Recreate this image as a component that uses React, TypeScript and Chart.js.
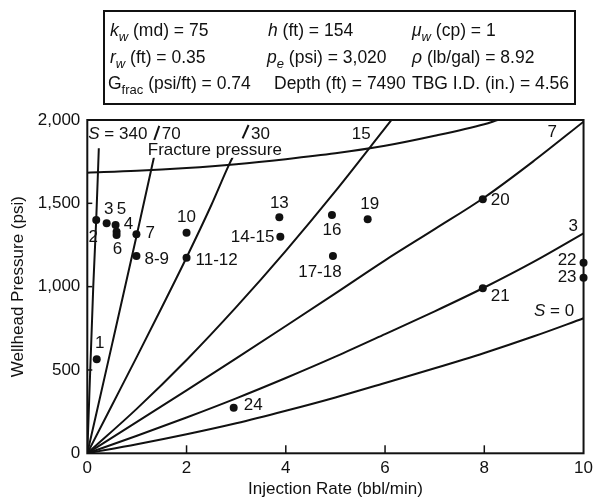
import React, { useEffect, useRef } from 'react';
import { Chart, registerables } from 'chart.js';

Chart.register(...registerables);

const FONT = '"Liberation Sans", Arial, Helvetica, sans-serif';
const INK = '#111111';

// axis ticks
const xTicks = [0, 2, 4, 6, 8, 10];
const yTicks = [0, 500, 1000, 1500, 2000];
const yTickText = ['0', '500', '1,000', '1,500', '2,000'];

// measured injection points
const injRate = [0.19, 0.18, 0.39, 0.59, 0.57, 0.59, 0.99, 0.99, 2.0, 2.0, 3.87, 3.89, 4.93, 4.95, 5.65, 7.97, 7.97, 10.0, 10.0, 2.95];
const whPressure = [564, 1400, 1380, 1330, 1370, 1310, 1315, 1184, 1324, 1174, 1416, 1300, 1430, 1184, 1404, 1524, 990, 1144, 1054, 274];
const pointNames = ['1', '2', '3', '4', '5', '6', '7', '8-9', '10', '11-12', '13', '14-15', '16', '17-18', '19', '20', '21', '22', '23', '24'];

// skin lines (S = const)
const s0Rate = [0, 1, 2, 3, 4, 5, 6, 7, 8, 9, 10];
const s0Pres = [0, 54, 114, 180, 255, 335, 422, 510, 602, 702, 810];
const s3Rate = [0, 1, 2, 3, 4, 5, 6, 7, 8, 9, 10];
const s3Pres = [0, 105, 215, 330, 452, 580, 715, 852, 995, 1150, 1320];
const s7Rate = [0, 1, 2, 3, 4, 5, 6, 7, 8, 9, 10];
const s7Pres = [0, 188, 378, 570, 764, 960, 1158, 1345, 1535, 1755, 1990];
const s15Rate = [0, 1, 2, 3, 4, 5, 6, 6.13];
const s15Pres = [0, 268, 560, 877, 1215, 1573, 1951, 2000];
const s30Rate = [0, 0.5, 1, 1.5, 2, 2.5, 2.85, 2.97];
const s30Pres = [0, 290, 580, 875, 1175, 1490, 1728, 1800];
const s70Rate = [0, 0.5, 1, 1.29, 1.36];
const s70Pres = [0, 655, 1315, 1704, 1800];
const s340Rate = [0, 0.12, 0.18, 0.232];
const s340Pres = [0, 1000, 1404, 1830];

// fracture pressure curve
const fracRate = [0, 1, 2, 3, 4, 5, 6, 7, 8, 8.27];
const fracPres = [1684, 1695, 1712, 1735, 1765, 1800, 1845, 1905, 1975, 2000];

// label placement for the points (pixel offsets from the point)
const pointLabelLayout: Record<string, [number, number, CanvasTextAlign]> = {
  '1': [3, -16, 'center'],
  '2': [-3, 17, 'center'],
  '3': [2, -14, 'center'],
  '4': [12, -7, 'center'],
  '5': [6, -16, 'center'],
  '6': [1, 14, 'center'],
  '7': [9, -1, 'left'],
  '8-9': [8, 3, 'left'],
  '10': [0, -15, 'center'],
  '11-12': [9, 3, 'left'],
  '13': [0, -14, 'center'],
  '14-15': [-6, 1, 'right'],
  '16': [0, 15, 'center'],
  '17-18': [-13, 16, 'center'],
  '19': [2, -15, 'center'],
  '20': [8, 1, 'left'],
  '21': [8, 8, 'left'],
  '22': [-7, -2, 'right'],
  '23': [-7, 0, 'right'],
  '24': [10, -2, 'left'],
};

type Seg = { t: string; i?: boolean; sub?: boolean };

// curve labels anchored in data units
const curveLabels: { segs: Seg[]; x: number; y: number; align: CanvasTextAlign; bg?: boolean; slash?: [number, number, number, number] }[] = [
  { segs: [{ t: 'S', i: true }, { t: ' = 340' }], x: 0.02, y: 1920, align: 'left' },
  { segs: [{ t: '70' }], x: 1.5, y: 1925, align: 'left', slash: [1.35, 1880, 1.45, 1965] },
  { segs: [{ t: '30' }], x: 3.3, y: 1925, align: 'left', slash: [3.13, 1890, 3.25, 1970] },
  { segs: [{ t: '15' }], x: 5.71, y: 1920, align: 'right' },
  { segs: [{ t: '7' }], x: 9.37, y: 1936, align: 'center' },
  { segs: [{ t: '3' }], x: 9.79, y: 1370, align: 'center' },
  { segs: [{ t: 'S', i: true }, { t: ' = 0' }], x: 9.81, y: 860, align: 'right' },
  { segs: [{ t: 'Fracture pressure' }], x: 2.57, y: 1825, align: 'center', bg: true },
];

// parameter box
const infoRows: { x: number; segs: Seg[] }[][] = [
  [
    { x: 110, segs: [{ t: 'k', i: true }, { t: 'w', i: true, sub: true }, { t: ' (md) = 75' }] },
    { x: 268, segs: [{ t: 'h', i: true }, { t: ' (ft) = 154' }] },
    { x: 412, segs: [{ t: 'μ', i: true }, { t: 'w', i: true, sub: true }, { t: ' (cp) = 1' }] },
  ],
  [
    { x: 110, segs: [{ t: 'r', i: true }, { t: 'w', i: true, sub: true }, { t: ' (ft) = 0.35' }] },
    { x: 267, segs: [{ t: 'p', i: true }, { t: 'e', i: true, sub: true }, { t: ' (psi) = 3,020' }] },
    { x: 412, segs: [{ t: 'ρ', i: true }, { t: ' (lb/gal) = 8.92' }] },
  ],
  [
    { x: 108, segs: [{ t: 'G' }, { t: 'frac', sub: true }, { t: ' (psi/ft) = 0.74' }] },
    { x: 274, segs: [{ t: 'Depth (ft) = 7490' }] },
    { x: 412, segs: [{ t: 'TBG I.D. (in.) = 4.56' }] },
  ],
];

const SIZE = 17;
const INFO_SIZE = 17.5;

function segFont(s: Seg, size: number) {
  const sz = s.sub ? Math.round(size * 0.74) : size;
  return `${s.i ? 'italic ' : ''}${sz}px ${FONT}`;
}

function richWidth(ctx: CanvasRenderingContext2D, segs: Seg[], size: number) {
  let w = 0;
  for (const s of segs) {
    ctx.font = segFont(s, size);
    w += ctx.measureText(s.t).width;
  }
  return w;
}

function drawRich(ctx: CanvasRenderingContext2D, segs: Seg[], x: number, y: number, size: number, align: CanvasTextAlign = 'left', bg = false) {
  const w = richWidth(ctx, segs, size);
  let cx = align === 'left' ? x : align === 'right' ? x - w : x - w / 2;
  if (bg) {
    ctx.save();
    ctx.fillStyle = '#ffffff';
    ctx.fillRect(cx - 1, y - size * 0.8, w + 2, size * 0.95);
    ctx.restore();
  }
  ctx.textAlign = 'left';
  ctx.textBaseline = 'alphabetic';
  for (const s of segs) {
    ctx.font = segFont(s, size);
    ctx.fillText(s.t, cx, y + (s.sub ? size * 0.28 : 0));
    cx += ctx.measureText(s.t).width;
  }
}

const overlay = {
  id: 'overlay',
  beforeDraw(chart: any) {
    const { ctx, width, height } = chart;
    ctx.save();
    ctx.fillStyle = '#ffffff';
    ctx.fillRect(0, 0, width, height);
    ctx.restore();
  },
  afterDatasetsDraw(chart: any) {
    const { ctx, chartArea: a, scales } = chart;
    const xs = scales.x;
    const ys = scales.y;
    ctx.save();
    ctx.strokeStyle = INK;
    ctx.fillStyle = INK;
    // frame
    ctx.lineWidth = 2;
    ctx.strokeRect(a.left, a.top, a.right - a.left, a.bottom - a.top);
    // inward ticks
    ctx.lineWidth = 1.5;
    for (const v of xTicks.slice(1, -1)) {
      const px = xs.getPixelForValue(v);
      ctx.beginPath();
      ctx.moveTo(px, a.bottom);
      ctx.lineTo(px, a.bottom - 8);
      ctx.stroke();
    }
    for (const v of yTicks.slice(1, -1)) {
      const py = ys.getPixelForValue(v);
      ctx.beginPath();
      ctx.moveTo(a.left, py);
      ctx.lineTo(a.left + 5, py);
      ctx.stroke();
    }
    // point labels
    ctx.font = `${SIZE}px ${FONT}`;
    ctx.textBaseline = 'middle';
    pointNames.forEach((name, k) => {
      const [dx, dy, al] = pointLabelLayout[name];
      ctx.textAlign = al;
      ctx.fillText(name, xs.getPixelForValue(injRate[k]) + dx, ys.getPixelForValue(whPressure[k]) + dy);
    });
    // curve labels
    for (const c of curveLabels) {
      const px = xs.getPixelForValue(c.x);
      const py = ys.getPixelForValue(c.y);
      drawRich(ctx, c.segs, px, py + SIZE * 0.36, SIZE, c.align, !!c.bg);
      if (c.slash) {
        ctx.lineWidth = 2;
        ctx.beginPath();
        ctx.moveTo(xs.getPixelForValue(c.slash[0]), ys.getPixelForValue(c.slash[1]));
        ctx.lineTo(xs.getPixelForValue(c.slash[2]), ys.getPixelForValue(c.slash[3]));
        ctx.stroke();
      }
    }
    // parameter box
    ctx.lineWidth = 2;
    ctx.strokeRect(104, 11, 471, 93);
    const baselines = [36, 63, 89];
    infoRows.forEach((row, r) => {
      for (const cell of row) drawRich(ctx, cell.segs, cell.x, baselines[r], INFO_SIZE, 'left');
    });
    ctx.restore();
  },
};

function pts(xs: number[], ys: number[]) {
  return xs.map((x, i) => ({ x, y: ys[i] }));
}

function curve(xs: number[], ys: number[]) {
  return {
    data: pts(xs, ys),
    showLine: true,
    borderColor: INK,
    borderWidth: 2,
    pointRadius: 0,
    cubicInterpolationMode: 'monotone',
    fill: false,
  };
}

export default function App() {
  const ref = useRef<HTMLCanvasElement>(null);
  useEffect(() => {
    if (!ref.current) return;
    const tickFont = { family: FONT, size: SIZE };
    const chart = new Chart(ref.current, {
      type: 'scatter',
      data: {
        datasets: [
          curve(s0Rate, s0Pres),
          curve(s3Rate, s3Pres),
          curve(s7Rate, s7Pres),
          curve(s15Rate, s15Pres),
          curve(s30Rate, s30Pres),
          curve(s70Rate, s70Pres),
          curve(s340Rate, s340Pres),
          curve(fracRate, fracPres),
          {
            data: pts(injRate, whPressure),
            showLine: false,
            pointRadius: 4,
            pointBackgroundColor: INK,
            pointBorderWidth: 0,
            clip: false,
          },
        ] as any,
      },
      options: {
        responsive: false,
        animation: false,
        events: [],
        layout: { padding: { top: 120, right: 11, left: 0, bottom: 0 } },
        plugins: { legend: { display: false }, tooltip: { enabled: false } },
        scales: {
          x: {
            type: 'linear',
            min: 0,
            max: 10,
            afterBuildTicks: (s: any) => {
              s.ticks = xTicks.map((v) => ({ value: v }));
            },
            afterFit: (s: any) => {
              s.height = 46.7;
            },
            grid: { display: false, drawTicks: false },
            border: { display: false },
            ticks: { font: tickFont, color: INK, padding: 5, maxRotation: 0, autoSkip: false },
            title: {
              display: true,
              text: 'Injection Rate (bbl/min)',
              font: { family: FONT, size: SIZE, lineHeight: 1.2 },
              color: INK,
              padding: { top: 0, bottom: 0 },
            },
          },
          y: {
            type: 'linear',
            min: 0,
            max: 2000,
            afterBuildTicks: (s: any) => {
              s.ticks = yTicks.map((v) => ({ value: v }));
            },
            afterFit: (s: any) => {
              s.width = 87.3;
            },
            grid: { display: false, drawTicks: false },
            border: { display: false },
            ticks: {
              font: tickFont,
              color: INK,
              padding: 7,
              autoSkip: false,
              callback: (v: any) => yTickText[yTicks.indexOf(Number(v))] ?? String(v),
            },
            title: {
              display: true,
              text: 'Wellhead Pressure (psi)',
              font: { family: FONT, size: SIZE, lineHeight: 1.2 },
              color: INK,
              padding: { top: 8, bottom: 0 },
            },
          },
        },
      } as any,
      plugins: [overlay],
    });
    return () => chart.destroy();
  }, []);
  return (
    <div style={{ position: 'absolute', left: 0, top: 0, width: 598, height: 500, background: '#fff' }}>
      <canvas ref={ref} width={598} height={500} style={{ display: 'block', width: 598, height: 500 }} />
    </div>
  );
}
